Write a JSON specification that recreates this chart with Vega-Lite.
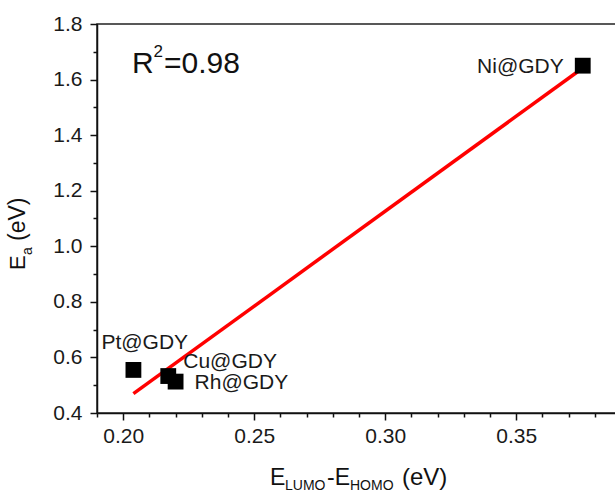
{
  "$schema": "https://vega.github.io/schema/vega-lite/v6.json",
  "autosize": {"type": "none"},
  "padding": {"left": 97, "top": 24, "right": 0, "bottom": 80},
  "width": 524,
  "height": 389,
  "background": "white",
  "config": {
    "view": {"stroke": "#222", "strokeWidth": 1.5},
    "font": "Liberation Sans",
    "axis": {"grid": false, "domainColor": "#111", "domainWidth": 1.5, "tickColor": "#111", "tickWidth": 1.5, "labelFont": "Liberation Sans", "labelColor": "#1a1a1a"}
  },
  "datasets": {
    "pts": [
      {"name": "Pt@GDY", "gap": 0.2039, "ea": 0.555},
      {"name": "Cu@GDY", "gap": 0.2172, "ea": 0.533},
      {"name": "Rh@GDY", "gap": 0.2200, "ea": 0.513},
      {"name": "Ni@GDY", "gap": 0.3754, "ea": 1.650}
    ]
  },
  "resolve": {"axis": {"x": "independent", "y": "independent"}},
  "layer": [
    {
      "data": {"name": "pts"},
      "mark": {"type": "point", "opacity": 0},
      "encoding": {
        "x": {"field": "gap", "type": "quantitative", "scale": {"domain": [0.19, 0.39], "nice": false, "zero": false},
          "axis": {"orient": "bottom", "values": [0.19, 0.21, 0.22, 0.23, 0.24, 0.26, 0.27, 0.28, 0.29, 0.31, 0.32, 0.33, 0.34, 0.36, 0.37, 0.38], "labels": false, "domain": false, "tickSize": 4, "title": null}},
        "y": {"field": "ea", "type": "quantitative", "scale": {"domain": [0.4, 1.8], "nice": false, "zero": false},
          "axis": {"orient": "left", "values": [0.5, 0.7, 0.9, 1.1, 1.3, 1.5, 1.7], "labels": false, "domain": false, "tickSize": 4, "title": null}}
      }
    },
    {
      "data": {"name": "pts"},
      "transform": [{"regression": "ea", "on": "gap"}],
      "mark": {"type": "line", "color": "#ff0000", "strokeWidth": 3.5},
      "encoding": {
        "x": {"field": "gap", "type": "quantitative", "axis": null},
        "y": {"field": "ea", "type": "quantitative", "axis": null}
      }
    },
    {
      "data": {"name": "pts"},
      "mark": {"type": "square", "size": 250, "filled": true, "color": "#000", "opacity": 1},
      "encoding": {
        "x": {"field": "gap", "type": "quantitative",
          "axis": {"orient": "bottom", "values": [0.2, 0.25, 0.3, 0.35], "format": ".2f", "labelFontSize": 21, "tickSize": 7, "labelPadding": 5, "title": null}},
        "y": {"field": "ea", "type": "quantitative",
          "axis": {"orient": "left", "values": [0.4, 0.6, 0.8, 1.0, 1.2, 1.4, 1.6, 1.8], "format": ".1f", "labelFontSize": 21, "tickSize": 7, "labelPadding": 8, "title": null}}
      }
    },
    {
      "data": {"name": "pts"},
      "transform": [{"filter": "datum.name === 'Pt@GDY'"}],
      "mark": {"type": "text", "align": "left", "baseline": "alphabetic", "dx": -32, "dy": -21, "fontSize": 21, "color": "#1a1a1a"},
      "encoding": {"x": {"field": "gap", "type": "quantitative", "axis": null}, "y": {"field": "ea", "type": "quantitative", "axis": null}, "text": {"field": "name"}}
    },
    {
      "data": {"name": "pts"},
      "transform": [{"filter": "datum.name === 'Cu@GDY'"}],
      "mark": {"type": "text", "align": "left", "baseline": "alphabetic", "dx": 15, "dy": -8, "fontSize": 21, "color": "#1a1a1a"},
      "encoding": {"x": {"field": "gap", "type": "quantitative", "axis": null}, "y": {"field": "ea", "type": "quantitative", "axis": null}, "text": {"field": "name"}}
    },
    {
      "data": {"name": "pts"},
      "transform": [{"filter": "datum.name === 'Rh@GDY'"}],
      "mark": {"type": "text", "align": "left", "baseline": "alphabetic", "dx": 19, "dy": 7, "fontSize": 21, "color": "#1a1a1a"},
      "encoding": {"x": {"field": "gap", "type": "quantitative", "axis": null}, "y": {"field": "ea", "type": "quantitative", "axis": null}, "text": {"field": "name"}}
    },
    {
      "data": {"name": "pts"},
      "transform": [{"filter": "datum.name === 'Ni@GDY'"}],
      "mark": {"type": "text", "align": "right", "baseline": "alphabetic", "dx": -19, "dy": 7, "fontSize": 21, "color": "#1a1a1a"},
      "encoding": {"x": {"field": "gap", "type": "quantitative", "axis": null}, "y": {"field": "ea", "type": "quantitative", "axis": null}, "text": {"field": "name"}}
    },
    {
      "data": {"values": [{}]},
      "mark": {"type": "text", "align": "left", "baseline": "alphabetic", "fontSize": 30, "color": "#111", "text": "R"},
      "encoding": {"x": {"datum": 0.20336, "type": "quantitative", "axis": null}, "y": {"datum": 1.6237, "type": "quantitative", "axis": null}}
    },
    {
      "data": {"values": [{}]},
      "mark": {"type": "text", "align": "left", "baseline": "alphabetic", "fontSize": 17, "color": "#111", "text": "2"},
      "encoding": {"x": {"datum": 0.21157, "type": "quantitative", "axis": null}, "y": {"datum": 1.6812, "type": "quantitative", "axis": null}}
    },
    {
      "data": {"values": [{}]},
      "mark": {"type": "text", "align": "left", "baseline": "alphabetic", "fontSize": 30, "color": "#111", "text": "=0.98"},
      "encoding": {"x": {"datum": 0.21557, "type": "quantitative", "axis": null}, "y": {"datum": 1.6237, "type": "quantitative", "axis": null}}
    },
    {
      "data": {"values": [{}]},
      "mark": {"type": "text", "align": "left", "baseline": "alphabetic", "fontSize": 23, "color": "#111", "text": "E"},
      "encoding": {"x": {"datum": 0.25603, "type": "quantitative", "axis": null}, "y": {"datum": 0.1409, "type": "quantitative", "axis": null}}
    },
    {
      "data": {"values": [{}]},
      "mark": {"type": "text", "align": "left", "baseline": "alphabetic", "fontSize": 14, "color": "#111", "text": "LUMO"},
      "encoding": {"x": {"datum": 0.26176, "type": "quantitative", "axis": null}, "y": {"datum": 0.1229, "type": "quantitative", "axis": null}}
    },
    {
      "data": {"values": [{}]},
      "mark": {"type": "text", "align": "left", "baseline": "alphabetic", "fontSize": 23, "color": "#111", "text": "-E"},
      "encoding": {"x": {"datum": 0.27779, "type": "quantitative", "axis": null}, "y": {"datum": 0.1409, "type": "quantitative", "axis": null}}
    },
    {
      "data": {"values": [{}]},
      "mark": {"type": "text", "align": "left", "baseline": "alphabetic", "fontSize": 14, "color": "#111", "text": "HOMO"},
      "encoding": {"x": {"datum": 0.28656, "type": "quantitative", "axis": null}, "y": {"datum": 0.1229, "type": "quantitative", "axis": null}}
    },
    {
      "data": {"values": [{}]},
      "mark": {"type": "text", "align": "left", "baseline": "alphabetic", "fontSize": 24, "color": "#111", "text": "(eV)"},
      "encoding": {"x": {"datum": 0.30641, "type": "quantitative", "axis": null}, "y": {"datum": 0.1409, "type": "quantitative", "axis": null}}
    },
    {
      "data": {"values": [{}]},
      "mark": {"type": "text", "align": "left", "baseline": "alphabetic", "angle": 270, "fontSize": 22, "color": "#111", "text": "E"},
      "encoding": {"x": {"datum": 0.16252, "type": "quantitative", "axis": null}, "y": {"datum": 0.9147, "type": "quantitative", "axis": null}}
    },
    {
      "data": {"values": [{}]},
      "mark": {"type": "text", "align": "left", "baseline": "alphabetic", "angle": 270, "fontSize": 14, "color": "#111", "text": "a"},
      "encoding": {"x": {"datum": 0.16519, "type": "quantitative", "axis": null}, "y": {"datum": 0.9686, "type": "quantitative", "axis": null}}
    },
    {
      "data": {"values": [{}]},
      "mark": {"type": "text", "align": "left", "baseline": "alphabetic", "angle": 270, "fontSize": 23, "color": "#111", "text": "(eV)"},
      "encoding": {"x": {"datum": 0.16252, "type": "quantitative", "axis": null}, "y": {"datum": 1.019, "type": "quantitative", "axis": null}}
    }
  ]
}
